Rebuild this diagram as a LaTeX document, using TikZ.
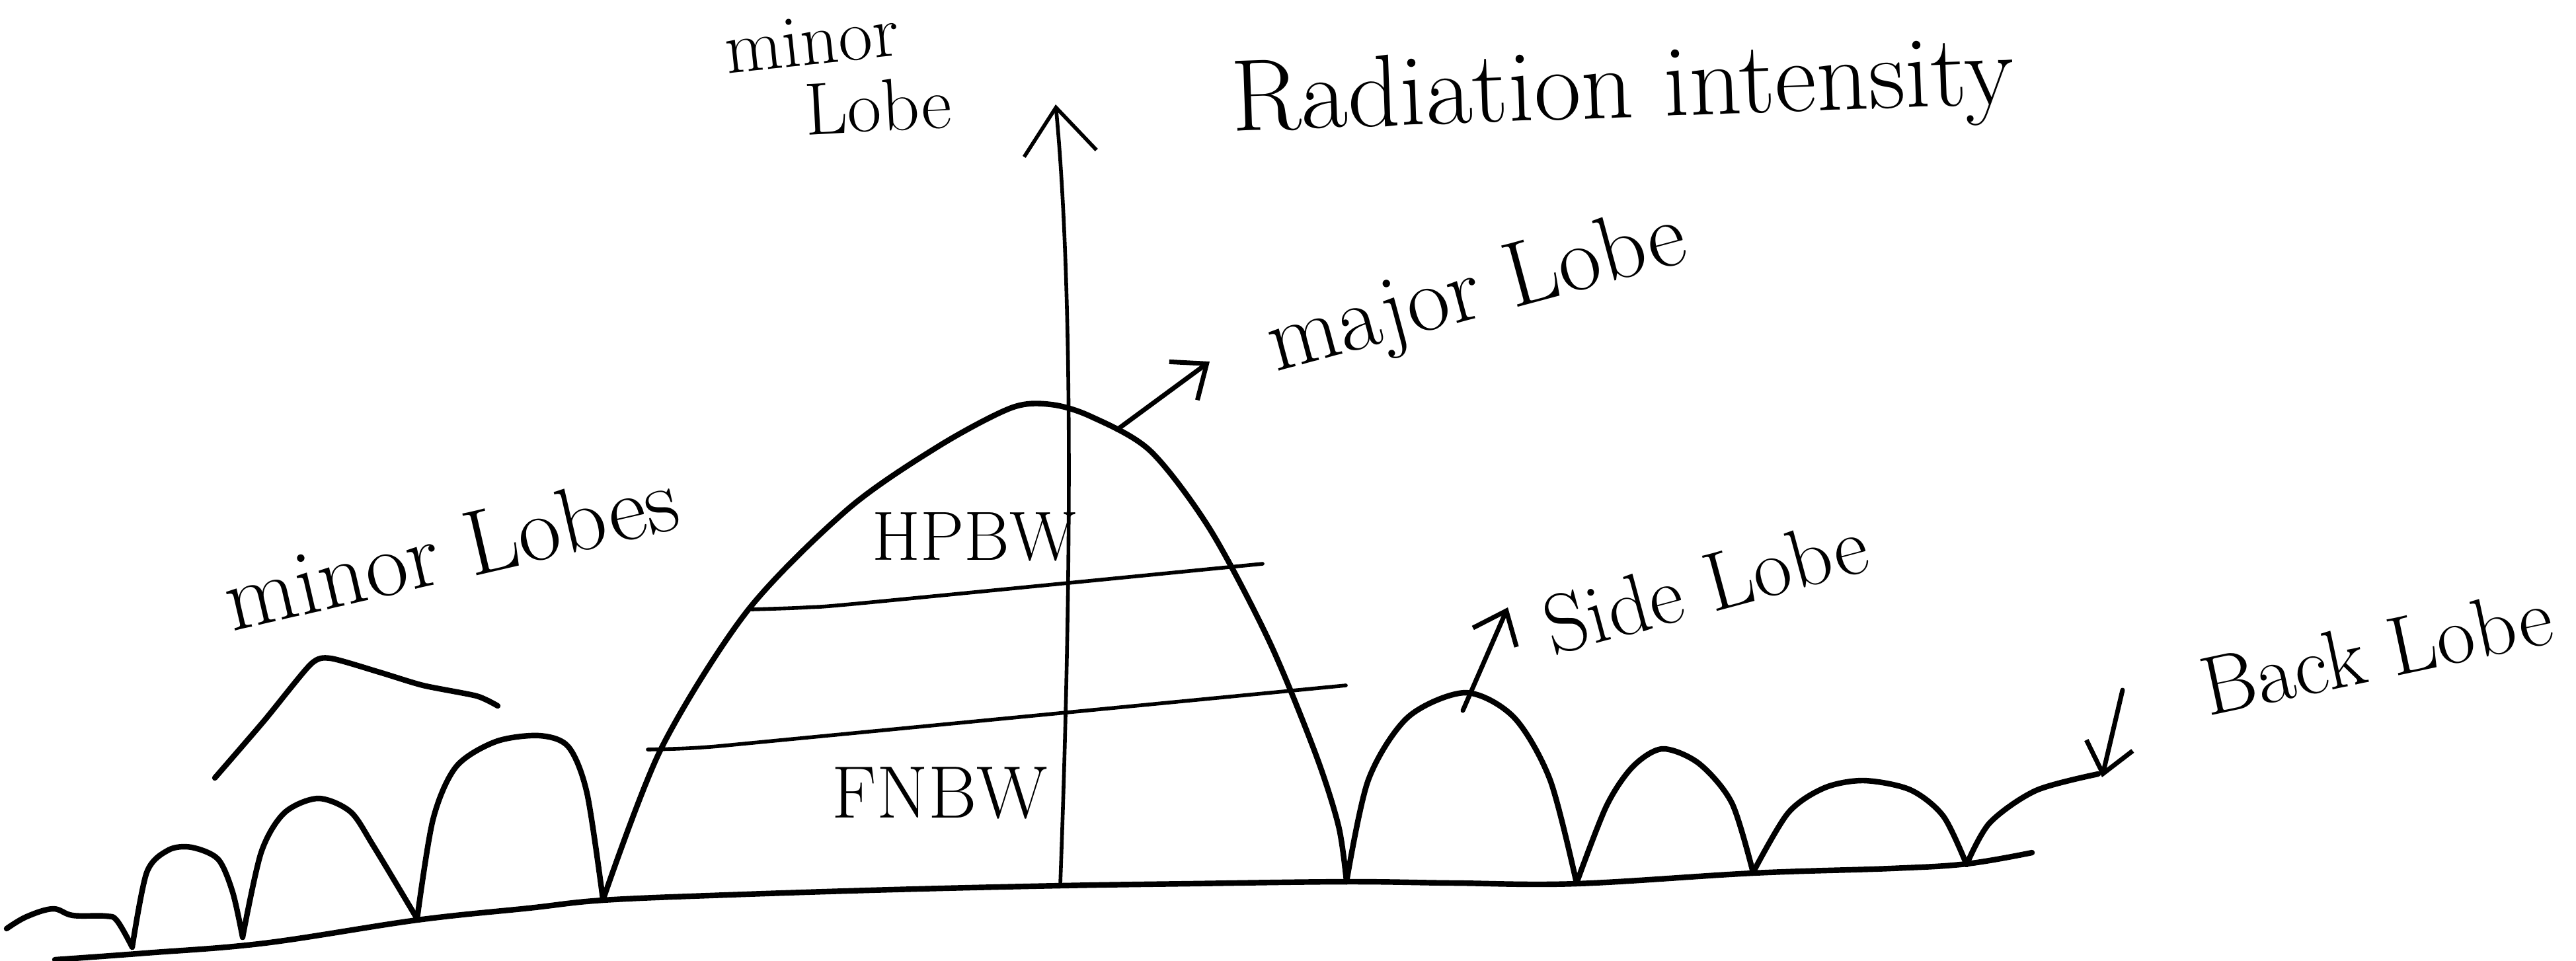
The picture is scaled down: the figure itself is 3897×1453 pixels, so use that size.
\documentclass[tikz,border=0pt]{standalone}
\usepackage{fontspec}
\usepackage{tikz}
\usetikzlibrary{arrows.meta}

\tikzset{
  lobe/.style={line width=1.2pt,line cap=round,line join=round},
  thinline/.style={line width=0.8pt,line cap=round},
  lbl/.style={inner sep=0pt,font=\fontsize{20}{24}\selectfont},
  ptr/.style={line width=1pt,line cap=round,-{Straight Barb[length=2.2mm,width=3.6mm]}},
}

\begin{document}
\begin{tikzpicture}[x=0.005cm,y=-0.005cm]
\useasboundingbox (0,0) rectangle (3897,1453);

% named points
\coordinate (origin) at (1604,1338);
\coordinate (axTip) at (1597,158);
\coordinate (majFoot) at (1690,650);
\coordinate (majTip) at (1830,547);
\coordinate (sideFoot) at (2213,1075);
\coordinate (sideTip) at (2281,919);
\coordinate (backFoot) at (3211,1044);
\coordinate (backTip) at (3180,1176);

% base line
\draw[lobe] plot[smooth,tension=0.6] coordinates {(83,1452)(220,1442)(400,1427)(631,1392)(800,1374)(912,1362)(1100,1354)(1350,1346)(1604,1340)(1800,1337)(2037,1334)(2200,1336)(2385,1337)(2652,1321)(2860,1314)(2975,1307)(3074,1290)};

% minor lobes on the left
\draw[lobe] plot[smooth,tension=0.6] coordinates {(10,1405)(40,1387)(80,1375)(110,1385)(160,1386)(177,1393)(200,1433)};
\draw[lobe] plot[smooth,tension=0.5] coordinates {(200,1433)(222,1320)(255,1286)(290,1282)(330,1300)(352,1350)(367,1418)};
\draw[lobe] plot[smooth,tension=0.5] coordinates {(367,1418)(395,1290)(430,1230)(481,1208)(530,1228)(565,1280)(631,1390)};
\draw[lobe] plot[smooth,tension=0.5] coordinates {(631,1390)(655,1240)(690,1160)(750,1122)(816,1113)(860,1130)(888,1200)(912,1360)};

% major lobe
\draw[lobe] plot[smooth,tension=0.5] coordinates {(912,1362)(1000,1133)(1130,925)(1283,770)(1420,675)(1530,617)(1590,612)(1650,630)(1740,682)(1830,800)(1920,970)(1990,1140)(2025,1250)(2037,1334)};

% side lobes and back lobe
\draw[lobe] plot[smooth,tension=0.5] coordinates {(2037,1334)(2070,1180)(2130,1085)(2217,1048)(2290,1085)(2345,1180)(2385,1336)};
\draw[lobe] plot[smooth,tension=0.5] coordinates {(2385,1336)(2430,1220)(2470,1160)(2515,1133)(2570,1155)(2620,1215)(2652,1320)};
\draw[lobe] plot[smooth,tension=0.5] coordinates {(2652,1320)(2705,1230)(2760,1192)(2820,1181)(2890,1195)(2940,1235)(2975,1308)};
\draw[lobe] plot[smooth,tension=0.5] coordinates {(2975,1308)(3010,1245)(3080,1196)(3174,1171)};

% bracket over the minor lobes
\draw[lobe] plot[smooth,tension=0.4] coordinates {(325,1177)(400,1090)(470,1005)(500,996)(574,1017)(640,1037)(721,1053)(753,1068)};

% beamwidth lines
\draw[thinline] plot[smooth] coordinates {(1137,922)(1220,919)(1320,911)(1910,853)};
\draw[thinline] plot[smooth] coordinates {(980,1134)(1060,1131)(1200,1118)(2036,1037)};

% axis
\draw[thinline,-{Straight Barb[length=3.5mm,width=5.5mm]}] (origin) .. controls (1624,800) and (1620,400) .. (axTip);

% pointers
\draw[ptr] (majFoot) -- (majTip);
\draw[ptr] (sideFoot) -- (sideTip);
\draw[ptr] (backFoot) -- (backTip);

% labels
\node[lbl,font=\fontsize{22}{26}\selectfont,rotate=2] (radInt) at (2455,140) {Radiation intensity};
\node[lbl,font=\fontsize{16}{18}\selectfont,rotate=6] (minTop) at (1228,62) {minor};
\node[lbl,font=\fontsize{16}{18}\selectfont,rotate=3] (lobeTop) at (1328,160) {Lobe};
\node[lbl,rotate=13] (minLbl) at (682,830) {minor Lobes};
\node[lbl,rotate=15] (majLbl) at (2235,445) {major Lobe};
\node[lbl,font=\fontsize{18}{22}\selectfont,rotate=15] (sideLbl) at (2580,885) {Side Lobe};
\node[lbl,font=\fontsize{18}{22}\selectfont,rotate=12] (backLbl) at (3595,985) {Back Lobe};
\node[lbl,font=\fontsize{15}{18}\selectfont] (hpbw) at (1474,812) {HPBW};
\node[lbl,font=\fontsize{16}{18}\selectfont] (fnbw) at (1422,1200) {FNBW};
\end{tikzpicture}
\end{document}
